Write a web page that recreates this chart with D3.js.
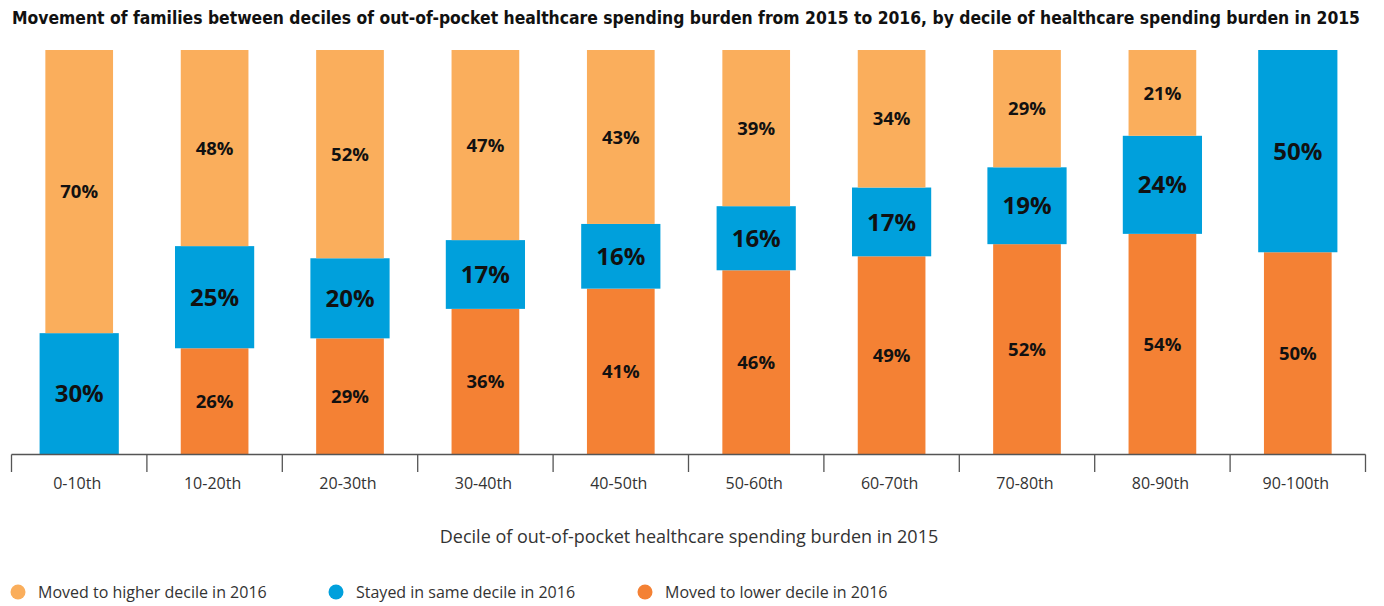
<!DOCTYPE html>
<html>
<head>
<meta charset="utf-8">
<script src="https://cdn.jsdelivr.net/npm/d3@7/dist/d3.min.js"></script>
<style>
  html, body { margin: 0; padding: 0; background: #fff; }
  svg { display: block; }
</style>
</head>
<body>
<svg id="chart" width="1384" height="606"></svg>
<script>
// Deciles of out-of-pocket healthcare spending burden in 2015
const categories = ["0-10th", "10-20th", "20-30th", "30-40th", "40-50th",
                    "50-60th", "60-70th", "70-80th", "80-90th", "90-100th"];
// Share of families (%) by where they landed in 2016
const movedLower  = [0, 26, 29, 36, 41, 46, 49, 52, 54, 50];
const stayedSame  = [30, 25, 20, 17, 16, 16, 17, 19, 24, 50];
const movedHigher = [70, 48, 52, 47, 43, 39, 34, 29, 21, 0];
const seriesNames = ["Moved to higher decile in 2016",
                     "Stayed in same decile in 2016",
                     "Moved to lower decile in 2016"];
const titleText = "Movement of families between deciles of out-of-pocket healthcare spending burden from 2015 to 2016, by decile of healthcare spending burden in 2015";
const xAxisTitle = "Decile of out-of-pocket healthcare spending burden in 2015";

const colors = { higher: "#FAAE5C", same: "#00A0DC", lower: "#F48134" };

const svg = d3.select("#chart");

const x = d3.scaleBand().domain(categories).range([11.5, 1365.5]).paddingInner(0).paddingOuter(0);
// 100% stacked: each column is normalised to its own total
const y = d3.scaleLinear().domain([0, 1]).range([454.5, 50]);

const narrowW = x.bandwidth() * 0.5;
const wideW = x.bandwidth() * 0.585;

const rows = categories.map((c, i) => ({
  cat: c, lower: movedLower[i], same: stayedSame[i], higher: movedHigher[i]
}));

const stack = d3.stack()
  .keys(["lower", "same", "higher"])
  .offset(d3.stackOffsetExpand)(rows);

const g = svg.append("g");

stack.forEach(layer => {
  const key = layer.key;
  const w = key === "same" ? wideW : narrowW;
  const fs = key === "same" ? 24 : 18.5;
  const sel = g.append("g").attr("class", "layer-" + key);
  const segs = layer.map((d, i) => ({ d, cat: categories[i], v: d.data[key] }))
                    .filter(s => s.v > 0);
  sel.selectAll("rect").data(segs).join("rect")
    .attr("x", s => x(s.cat) + x.bandwidth() / 2 - w / 2)
    .attr("width", w)
    .attr("y", s => y(s.d[1]))
    .attr("height", s => y(s.d[0]) - y(s.d[1]))
    .attr("fill", colors[key]);
  sel.selectAll("text").data(segs).join("text")
    .attr("x", s => x(s.cat) + x.bandwidth() / 2)
    .attr("y", s => (y(s.d[0]) + y(s.d[1])) / 2)
    .attr("dy", "0.36em")
    .attr("text-anchor", "middle")
    .attr("font-family", "'Open Sans', 'Noto Sans', sans-serif")
    .attr("font-weight", 700)
    .attr("font-size", fs)
    .attr("fill", "#111")
    .text(s => s.v + "%");
});

// Category axis: baseline with tick marks on band boundaries
const axisG = svg.append("g");
axisG.append("line")
  .attr("x1", x.range()[0]).attr("x2", x.range()[1])
  .attr("y1", 454.5).attr("y2", 454.5)
  .attr("stroke", "#555").attr("stroke-width", 1.3);
const bounds = categories.map(c => x(c)).concat([x.range()[1]]);
axisG.selectAll("line.tick").data(bounds).join("line")
  .attr("class", "tick")
  .attr("x1", d => d).attr("x2", d => d)
  .attr("y1", 454.5).attr("y2", 472)
  .attr("stroke", "#555").attr("stroke-width", 1.3);
axisG.selectAll("text").data(categories).join("text")
  .attr("x", c => x(c) + x.bandwidth() / 2 - 2)
  .attr("y", 489)
  .attr("text-anchor", "middle")
  .attr("font-family", "'Open Sans', 'Noto Sans', sans-serif")
  .attr("font-size", 16)
  .attr("fill", "#333")
  .text(c => c);

svg.append("text")
  .attr("x", 689).attr("y", 543)
  .attr("text-anchor", "middle")
  .attr("font-family", "'Open Sans', 'Noto Sans', sans-serif")
  .attr("font-size", 18)
  .attr("fill", "#333")
  .text(xAxisTitle);

// Title
svg.append("text")
  .attr("x", 12).attr("y", 24)
  .attr("font-family", "'DejaVu Sans Condensed', 'Liberation Sans Narrow', sans-serif")
  .attr("font-weight", 700)
  .attr("font-size", 17)
  .attr("fill", "#111")
  .attr("textLength", 1348)
  .attr("lengthAdjust", "spacingAndGlyphs")
  .text(titleText);

// Legend
const legendX = [18, 336, 645];
const legendColors = [colors.higher, colors.same, colors.lower];
const lg = svg.append("g");
lg.selectAll("circle").data(seriesNames).join("circle")
  .attr("cx", (d, i) => legendX[i]).attr("cy", 592)
  .attr("r", 7.5)
  .attr("fill", (d, i) => legendColors[i]);
lg.selectAll("text").data(seriesNames).join("text")
  .attr("x", (d, i) => legendX[i] + 20).attr("y", 597.5)
  .attr("font-family", "'Open Sans', 'Noto Sans', sans-serif")
  .attr("font-size", 16)
  .attr("fill", "#333")
  .text(d => d);
</script>
</body>
</html>
